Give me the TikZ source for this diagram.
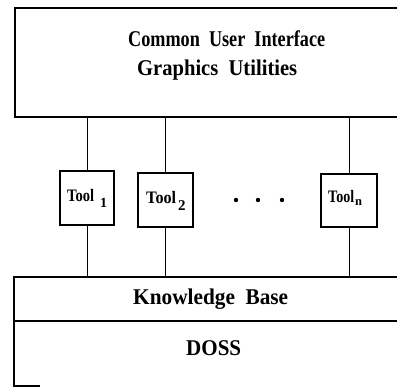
\documentclass[tikz,border=0pt]{standalone}
\usepackage{fontspec}
\setmainfont{Liberation Serif}
\begin{document}
\begin{tikzpicture}[x=1pt,y=1pt,
  frame/.style={line width=1.2pt},
  conn/.style={line width=1pt},
  toolbox/.style={draw,line width=1.2pt,minimum width=54pt,minimum height=54pt,inner sep=0pt},
  toollabel/.style={font=\fontsize{17.5}{19}\selectfont\bfseries,inner sep=0pt,anchor=base west},
  toolsub/.style={font=\fontsize{14}{16}\selectfont\bfseries,inner sep=0pt,anchor=base west},
  bigtext/.style={font=\fontsize{22.5}{26}\selectfont\bfseries,inner sep=0pt}]
\useasboundingbox (0,0) rectangle (397,387);
% layer outlines (open to the right, cut off by the page)
\draw[frame] (397,379) -- (15,379) -- (15,270) -- (397,270);
\draw[frame] (397,110) -- (14,110) -- (14,1) -- (40,1);
\draw[frame] (14,66) -- (397,66);
% named anchors for layers
\coordinate (ui) at (200,270);
\coordinate (kb) at (200,110);
% texts
\node[bigtext,anchor=base west] (t1) at (128,340) {\resizebox{197pt}{\height}{Common\ \ User\ \ Interface}};
\node[bigtext,anchor=base west] (t2) at (137,311) {\resizebox{160pt}{\height}{Graphics\ \ Utilities}};
\node[bigtext,anchor=base west] (kbt) at (133,82) {\resizebox{155pt}{\height}{Knowledge\ \ Base}};
\node[bigtext,anchor=base west] (doss) at (186,31) {\resizebox{55pt}{\height}{DOSS}};
% tools
\node[toolbox] (a) at (87,189) {};
\node[toolbox,minimum width=55pt] (b) at (165.5,187) {};
\node[toolbox,minimum width=56pt,minimum height=53pt] (n) at (349,186.5) {};
\node[toollabel] (al) at (67,185) {\resizebox{27pt}{\height}{Tool}};
\node[toolsub] (as) at (100,179.5) {1};
\node[toollabel] (bl) at (146,183) {\resizebox{30pt}{\height}{Tool}};
\node[toolsub,font=\fontsize{15}{17}\selectfont\bfseries] (bs) at (178,176) {2};
\node[toollabel] (nl) at (328,184) {\resizebox{26pt}{\height}{Tool}};
\node[toolsub,font=\fontsize{12.5}{14}\selectfont\bfseries] (ns) at (355,181) {n};
% dots
\fill (236,187) circle (2.2) (258,187) circle (2.2) (282,187) circle (2.2);
% connectors
\foreach \t in {a,b,n}{
  \draw[conn] (\t.north) -- (\t.north |- ui);
  \draw[conn] (\t.south) -- (\t.south |- kb);
}
\end{tikzpicture}
\end{document}
